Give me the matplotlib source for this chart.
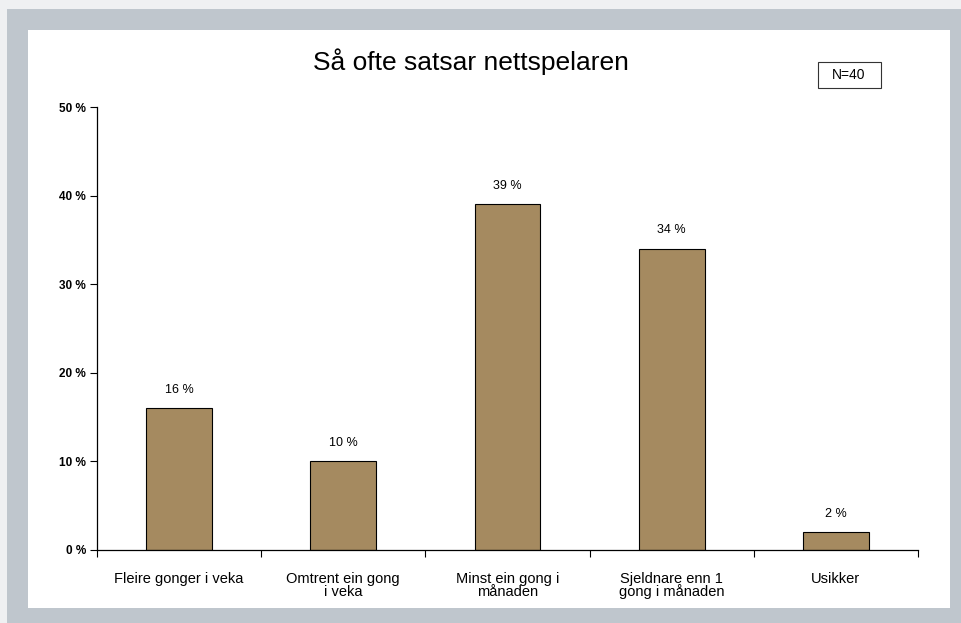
import matplotlib.pyplot as plt
from matplotlib.patches import Rectangle
import numpy as np

categories = ["Fleire gonger i veka", "Omtrent ein gong\ni veka", "Minst ein gong i\nmånaden",
              "Sjeldnare enn 1\ngong i månaden", "Usikker"]
values = [16, 10, 39, 34, 2]
yticks = [0, 10, 20, 30, 40, 50]

plt.rcParams['font.family'] = ['Liberation Sans Narrow', 'Liberation Sans', 'DejaVu Sans']

fig = plt.figure(figsize=(9.61, 6.23), dpi=100)
fig.patch.set_facecolor('#eff0f2')
W, H = 961, 623
# grey frame and white panel
fig.patches.append(Rectangle((7 / W, 0), 1 - 7 / W, 1 - 9 / H, transform=fig.transFigure,
                             facecolor='#bfc6cd', edgecolor='none', zorder=-2))
fig.patches.append(Rectangle((28 / W, 1 - 608 / H), (950 - 28) / W, (608 - 30) / H,
                             transform=fig.transFigure, facecolor='white', edgecolor='none', zorder=-1))

ax = fig.add_axes([97 / W, 1 - 550 / H, (918 - 97) / W, (550 - 107) / H])
ax.set_facecolor('none')
x = np.arange(len(categories))
ax.bar(x, values, width=0.4, color='#a58a60', edgecolor='black', linewidth=0.8)
for xi, v in zip(x, values):
    ax.text(xi, v + 1.4, f"{v} %", ha='center', va='bottom', fontsize=9)

ax.set_xlim(-0.5, len(categories) - 0.5)
ax.set_ylim(0, 50)
ax.set_yticks(yticks)
ax.set_yticklabels([f"{t} %" for t in yticks], fontsize=8.5, fontweight='bold')
ax.set_xticks(x)
ax.set_xticklabels(categories, fontsize=10.5, linespacing=0.85)
ax.tick_params(axis='x', which='major', length=0, pad=16)
ax.set_xticks(np.arange(len(categories) + 1) - 0.5, minor=True)
ax.tick_params(axis='x', which='minor', length=5, width=0.8, direction='out')
ax.tick_params(axis='y', length=5, width=0.8, direction='out', pad=3)
for s in ['top', 'right']:
    ax.spines[s].set_visible(False)
for s in ['left', 'bottom']:
    ax.spines[s].set_linewidth(0.9)

fig.text(471 / W, 1 - 62 / H, "Så ofte satsar nettspelaren", ha='center', va='center', fontsize=19)
# N box
fig.patches.append(Rectangle((818 / W, 1 - 88 / H), 63 / W, 26 / H, transform=fig.transFigure,
                             facecolor='white', edgecolor='#333333', linewidth=0.8))
fig.text(849 / W, 1 - 75 / H, "N=40", ha='center', va='center', fontsize=10)

fig.savefig("out.png", dpi=100)
